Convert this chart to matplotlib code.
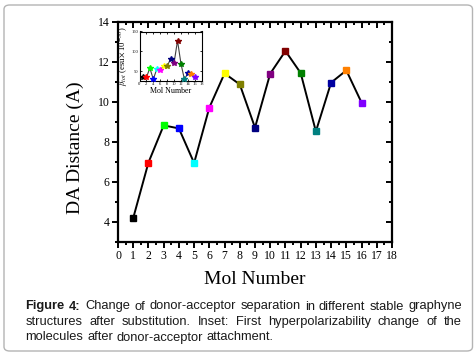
import matplotlib
matplotlib.use("Agg")
import matplotlib.pyplot as plt
from matplotlib.patches import FancyBboxPatch

# ---- data ----
mol = [1, 2, 3, 4, 5, 6, 7, 8, 9, 10, 11, 12, 13, 14, 15, 16]
da_distance = [4.2, 6.97, 8.83, 8.68, 6.95, 9.72, 11.43, 10.88, 8.72, 11.42, 12.55, 11.45, 8.53, 10.97, 11.58, 9.97]
colors = ["#000000", "#ff0000", "#00ff00", "#0000ff", "#00ffff", "#ff00ff", "#ffff00", "#808000",
          "#000080", "#800080", "#800000", "#008000", "#008080", "#0000a0", "#ff8000", "#8000ff"]
beta_tot = [35, 35, 58, 30, 56, 54, 63, 63, 81, 71, 127, 69, 30, 45, 43, 35]
x_ticks = list(range(0, 19))
y_ticks = [4, 6, 8, 10, 12, 14]
inset_xticks = list(range(0, 19, 2))
inset_yticks = [50, 100, 150]
caption_lines = [
    "Figure 4: Change of donor-acceptor separation in different stable graphyne",
    "structures after substitution. Inset: First hyperpolarizability change of the",
    "molecules after donor-acceptor attachment.",
]

plt.rcParams["mathtext.fontset"] = "stix"
W, H = 476, 356
fig = plt.figure(figsize=(W / 100, H / 100), dpi=100)

# border
border = FancyBboxPatch((4 / W, 5 / H), (472.5 - 4) / W, (351 - 5) / H,
                        boxstyle="round,pad=0,rounding_size=0.012",
                        transform=fig.transFigure, facecolor="none",
                        edgecolor="#b4b4b4", linewidth=1.0)
fig.patches.append(border)

serif = "Liberation Serif"

# ---- main axes ----
ax = fig.add_axes([118 / W, 1 - 242 / H, (392 - 118) / W, (242 - 22) / H])
ax.plot(mol, da_distance, color="black", lw=1.4, zorder=2)
for xi, yi, c in zip(mol, da_distance, colors):
    ax.plot(xi, yi, marker="s", ms=4.6, color=c, mec=c, zorder=3)
ax.set_xlim(0, 18)
ax.set_ylim(3, 14)
ax.set_xticks(x_ticks)
ax.set_xticks([x + 0.5 for x in x_ticks[:-1]], minor=True)
ax.set_yticks(y_ticks)
ax.set_yticks([3, 5, 7, 9, 11, 13], minor=True)
ax.set_xticklabels([str(v) for v in x_ticks], fontfamily=serif, fontsize=8.5)
ax.set_yticklabels([str(v) for v in y_ticks], fontfamily=serif, fontsize=8.5)
for s in ax.spines.values():
    s.set_linewidth(1.6)
ax.tick_params(which="both", direction="out", width=1.4, top=True, right=True)
ax.tick_params(which="major", length=4, pad=2)
ax.tick_params(which="minor", length=2.2)
ax.set_xlabel("Mol Number", fontfamily=serif, fontsize=14, labelpad=6)
ax.set_ylabel("DA Distance (A)", fontfamily=serif, fontsize=14)
ax.yaxis.set_label_coords(-0.125, 0.43)
# top/right ticks pointing inward
for t in ax.xaxis.get_major_ticks() + ax.xaxis.get_minor_ticks():
    t.tick2line.set_marker(3)
for t in ax.yaxis.get_major_ticks() + ax.yaxis.get_minor_ticks():
    t.tick2line.set_marker(0)

# ---- inset ----
ins = fig.add_axes([139.5 / W, 1 - 80.5 / H, (201.7 - 139.5) / W, (80.5 - 31.5) / H])
ins.plot(mol, beta_tot, color="#404040", lw=0.8, zorder=2)
for xi, yi, c in zip(mol, beta_tot, colors):
    ins.plot(xi, yi, marker="*", ms=3.8, color=c, mec=c, zorder=3)
ins.set_xlim(0, 18)
ins.set_ylim(27, 150)
ins.set_xticks(inset_xticks)
ins.set_yticks(inset_yticks)
ins.set_xticklabels([str(v) for v in inset_xticks], fontfamily=serif, fontsize=3.3)
ins.set_yticklabels([str(v) for v in inset_yticks], fontfamily=serif, fontsize=3.3)
ins.tick_params(direction="in", length=1.5, width=0.6, pad=1, top=True, right=True)
for s in ins.spines.values():
    s.set_linewidth(0.8)
ins.set_xlabel("Mol Number", fontfamily=serif, fontsize=5.8, labelpad=0.5)
ins.set_ylabel(r"$\beta_{tot}$ (esu$\times$ 10$^{-30}$)", fontfamily=serif, fontsize=6.2, labelpad=1)

# ---- justified caption ----
fig.canvas.draw()
r = fig.canvas.get_renderer()
x0, x1 = 25.5, 462.0
ys = [309.5, 325.0, 340.5]
fs = 9.3

space_w = None
for li, (line, yv) in enumerate(zip(caption_lines, ys)):
    words = line.split(" ")
    bold = [(li == 0 and i < 2) for i in range(len(words))]
    texts = []
    widths = []
    for w, b in zip(words, bold):
        t = fig.text(0, 1 - yv / H, w, fontfamily="Liberation Sans", fontsize=fs,
                     fontweight="bold" if b else "normal", va="baseline", ha="left",
                     color="#1a1a1a")
        texts.append(t)
        widths.append(t.get_window_extent(r).width)
    if space_w is None:
        st = fig.text(0, 0, "a a", fontfamily="Liberation Sans", fontsize=fs)
        st2 = fig.text(0, 0, "aa", fontfamily="Liberation Sans", fontsize=fs)
        space_w = st.get_window_extent(r).width - st2.get_window_extent(r).width
        st.remove(); st2.remove()
    if li < len(caption_lines) - 1:
        gap = (x1 - x0 - sum(widths)) / (len(words) - 1)
    else:
        gap = space_w
    x = x0
    for t, w in zip(texts, widths):
        t.set_x(x / W)
        x += w + gap

fig.savefig("out.png", dpi=100)
